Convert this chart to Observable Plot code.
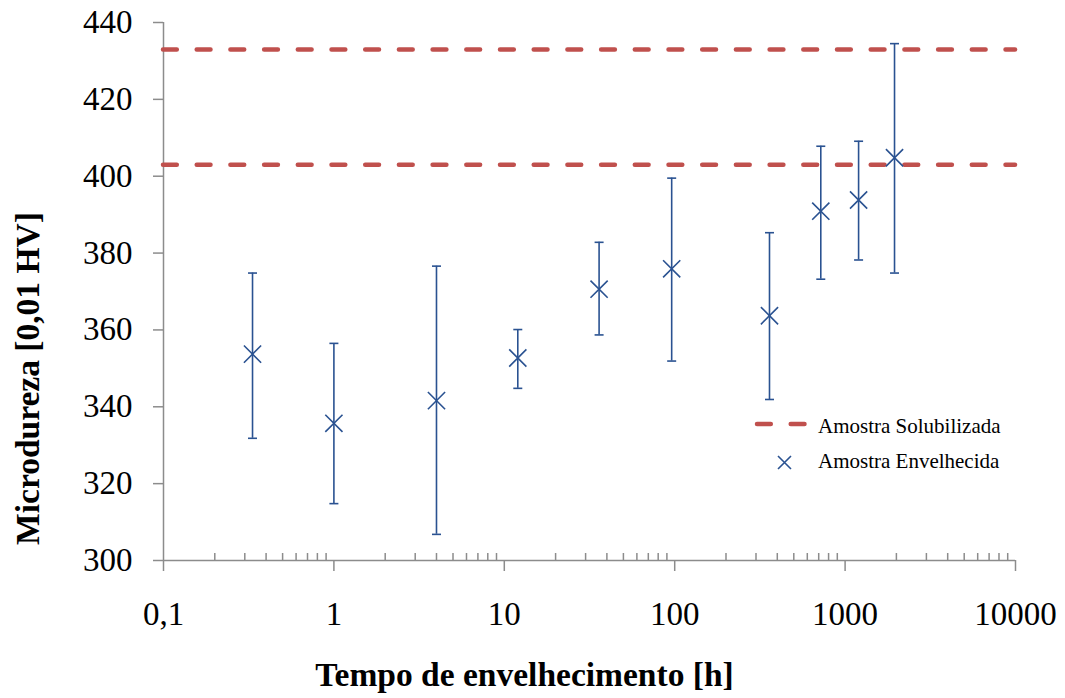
<!DOCTYPE html>
<html>
<head>
<meta charset="utf-8">
<script src="https://cdn.jsdelivr.net/npm/d3@7"></script>
<script src="https://cdn.jsdelivr.net/npm/@observablehq/plot@0.6"></script>
<style>
  html, body { margin: 0; padding: 0; background: #fff; }
  #wrap { position: relative; width: 1065px; height: 698px; }
  #legend { position: absolute; left: 0; top: 0; pointer-events: none; }
</style>
</head>
<body>
<div id="wrap"></div>
<script>
// ---- data ----
const times = [0.333, 1, 4, 12, 36, 96, 360, 720, 1200, 1950];       // aging time [h]
const hardness = [353.7, 335.7, 341.6, 352.7, 370.6, 375.9, 363.7, 390.9, 393.8, 404.8];
const errLow = [331.8, 314.8, 306.8, 344.8, 358.7, 351.9, 341.9, 373.2, 378.2, 374.8];
const errHigh = [374.8, 356.5, 376.6, 360.1, 382.8, 399.5, 385.3, 407.8, 409.1, 434.5];
const solubilizedLevels = [433, 403];
const xMajorTicks = [0.1, 1, 10, 100, 1000, 10000];
const xTickLabels = ["0,1", "1", "10", "100", "1000", "10000"];
const yTicks = [300, 320, 340, 360, 380, 400, 420, 440];
const seriesNames = ["Amostra Solubilizada", "Amostra Envelhecida"];

const xMinorTicks = [];
for (const d of xMajorTicks.slice(0, -1)) for (let k = 2; k <= 9; k++) xMinorTicks.push(+(d * k).toPrecision(3));

const aged = times.map((t, i) => ({t, h: hardness[i], lo: errLow[i], hi: errHigh[i]}));

const RED = "#C0504D", BLUE = "#2A5291", GRAY = "#8c8c8c";
const FONT = '"Liberation Serif", "Times New Roman", serif';

const capSymbol = {draw(ctx, size) { const w = Math.sqrt(size / Math.PI); ctx.moveTo(-w, 0); ctx.lineTo(w, 0); }};
const crossSymbol = {draw(ctx, size) { const r = Math.sqrt(size / Math.PI); ctx.moveTo(-r, -r); ctx.lineTo(r, r); ctx.moveTo(-r, r); ctx.lineTo(r, -r); }};

const chart = Plot.plot({
  width: 1065,
  height: 698,
  marginLeft: 163,
  marginRight: 50,
  marginTop: 22,
  marginBottom: 138,
  style: {fontFamily: FONT, fontSize: "33px", color: "black", background: "white", overflow: "visible"},
  x: {type: "log", domain: [0.1, 10000]},
  y: {domain: [300, 440]},
  marks: [
    // axes
    Plot.axisY({ticks: yTicks, tickSize: 10, tickPadding: 21, stroke: GRAY, strokeWidth: 1.5, fill: "black", fontSize: 33, label: null}),
    Plot.axisX({ticks: xMajorTicks, tickSize: 11, tickPadding: 30, stroke: GRAY, strokeWidth: 1.5, fill: "black", fontSize: 33, label: null,
      tickFormat: d => xTickLabels[xMajorTicks.findIndex(v => Math.abs(v - d) < 1e-9 * Math.max(1, v))]}),
    Plot.tickX(xMinorTicks, {x: d => d, stroke: GRAY, strokeWidth: 1.5, insetTop: 531}),
    Plot.ruleY([300], {stroke: GRAY, strokeWidth: 1.5}),
    Plot.ruleX([0.1], {stroke: GRAY, strokeWidth: 1.5}),
    // solubilized reference lines
    Plot.ruleY(solubilizedLevels, {stroke: RED, strokeWidth: 4.5, strokeDasharray: "13.8,19.9", strokeLinecap: "round"}),
    // aged samples with error bars
    Plot.ruleX(aged, {x: "t", y1: "lo", y2: "hi", stroke: BLUE, strokeWidth: 1.6}),
    Plot.dot(aged, {x: "t", y: "hi", symbol: capSymbol, r: 4.5, stroke: BLUE, strokeWidth: 1.6}),
    Plot.dot(aged, {x: "t", y: "lo", symbol: capSymbol, r: 4.5, stroke: BLUE, strokeWidth: 1.6}),
    Plot.dot(aged, {x: "t", y: "h", symbol: crossSymbol, r: 8.6, stroke: BLUE, strokeWidth: 1.6}),
    // axis titles
    Plot.text(["Tempo de envelhecimento [h]"], {frameAnchor: "bottom", textAnchor: "middle", lineAnchor: "bottom", dx: -65, dy: 125, fontWeight: "bold", fontSize: 33.5, fill: "black"}),
    Plot.text(["Microdureza [0,01 HV]"], {frameAnchor: "left", textAnchor: "middle", lineAnchor: "middle", rotate: -90, dx: -135, dy: 87, fontWeight: "bold", fontSize: 33.5, fill: "black"})
  ]
});

const wrap = document.getElementById("wrap");
wrap.appendChild(chart);

// legend overlay (inside the plot area, lower right)
const ns = "http://www.w3.org/2000/svg";
const leg = document.createElementNS(ns, "svg");
leg.setAttribute("id", "legend");
leg.setAttribute("width", 1065);
leg.setAttribute("height", 698);
leg.innerHTML = `
  <line x1="757" x2="805" y1="424" y2="424" stroke="${RED}" stroke-width="4.5" stroke-dasharray="13.8,19.9" stroke-linecap="round"/>
  <text x="818" y="433" font-family='${FONT}' font-size="21" fill="black">${seriesNames[0]}</text>
  <path d="M778,456L791,469M778,469L791,456" stroke="${BLUE}" stroke-width="1.6" fill="none"/>
  <text x="818" y="468" font-family='${FONT}' font-size="21" fill="black">${seriesNames[1]}</text>
`;
wrap.appendChild(leg);
</script>
</body>
</html>
